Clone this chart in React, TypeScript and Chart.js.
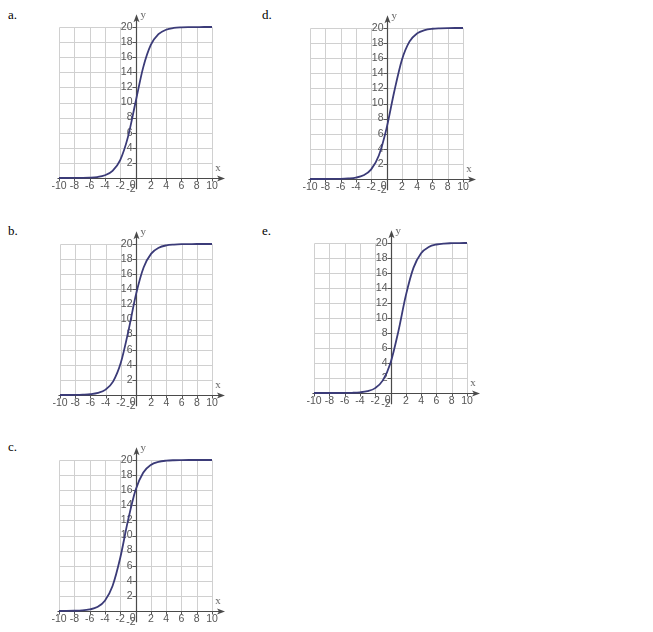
import React, { useEffect, useRef } from "react";
import { Chart, registerables } from "chart.js";

Chart.register(...registerables);

const X_VALUES = [-10, -9, -8, -7, -6, -5, -4, -3, -2, -1, 0, 1, 2, 3, 4, 5, 6, 7, 8, 9, 10];
const SERIES_A = [0, 0, 0.01, 0.02, 0.05, 0.13, 0.36, 0.95, 2.38, 5.38, 10, 14.62, 17.62, 19.05, 19.64, 19.87, 19.95, 19.98, 19.99, 20, 20];
const SERIES_B = [0, 0, 0.01, 0.04, 0.1, 0.27, 0.71, 1.81, 4.26, 8.48, 13.33, 16.89, 18.73, 19.51, 19.82, 19.93, 19.98, 19.99, 20, 20, 20];
const SERIES_C = [0, 0.01, 0.03, 0.07, 0.2, 0.52, 1.37, 3.32, 7.02, 11.91, 16, 18.32, 19.35, 19.75, 19.91, 19.97, 19.99, 20, 20, 20, 20];
const SERIES_D = [0, 0, 0, 0.01, 0.02, 0.07, 0.18, 0.49, 1.27, 3.11, 6.67, 11.52, 15.74, 18.19, 19.29, 19.73, 19.9, 19.96, 19.99, 20, 20];
const SERIES_E = [0, 0, 0, 0, 0.01, 0.03, 0.09, 0.25, 0.65, 1.68, 4, 8.09, 12.98, 16.68, 18.63, 19.47, 19.8, 19.93, 19.97, 19.99, 20];

const GRID_X = [-10, -8, -6, -4, -2, 0, 2, 4, 6, 8, 10];
const GRID_Y = [0, 2, 4, 6, 8, 10, 12, 14, 16, 18, 20];
const X_TICKS = [-10, -8, -6, -4, -2, 2, 4, 6, 8, 10];
const X_TICK_LABELS = ["-10", "-8", "-6", "-4", "-2", "2", "4", "6", "8", "10"];
const Y_TICKS = [2, 4, 6, 8, 10, 12, 14, 16, 18, 20];
const Y_TICK_LABELS = ["2", "4", "6", "8", "10", "12", "14", "16", "18", "20"];
const PANEL_LABELS = ["a.", "b.", "c.", "d.", "e."];

const PAD_L = 22;
const PAD_R = 24;
const PAD_T = 20;
const PAD_B = 20;

const TICK_FONT = '10.5px "Liberation Sans", Arial, sans-serif';
const LETTER_FONT = '11px "Liberation Serif", "Times New Roman", serif';

const axesPlugin = {
  id: "mathAxes",
  beforeDatasetsDraw(chart: any) {
    const { ctx } = chart;
    const xs = chart.scales.x;
    const ys = chart.scales.y;
    const px = (v: number) => xs.getPixelForValue(v);
    const py = (v: number) => ys.getPixelForValue(v);
    const x0 = Math.round(px(0)) + 0.5;
    const y0 = Math.round(py(0)) + 0.5;
    ctx.save();
    // grid
    ctx.strokeStyle = "#d0d0d0";
    ctx.lineWidth = 1;
    ctx.beginPath();
    for (const g of GRID_X) {
      const gx = Math.round(px(g)) + 0.5;
      ctx.moveTo(gx, py(0));
      ctx.lineTo(gx, Math.round(py(20)) + 0.5);
    }
    for (const g of GRID_Y) {
      const gy = Math.round(py(g)) + 0.5;
      ctx.moveTo(Math.round(px(-10)) + 0.5, gy);
      ctx.lineTo(Math.round(px(10)) + 0.5, gy);
    }
    ctx.stroke();

    // axes
    ctx.strokeStyle = "#4a4a4a";
    ctx.fillStyle = "#4a4a4a";
    ctx.lineWidth = 1.2;
    ctx.beginPath();
    ctx.moveTo(px(-10.2), y0);
    ctx.lineTo(px(11.2), y0);
    ctx.moveTo(x0, py(-1.5));
    ctx.lineTo(x0, py(21.2));
    ctx.stroke();
    const xt = px(11.7);
    ctx.beginPath();
    ctx.moveTo(xt, y0);
    ctx.lineTo(xt - 8, y0 - 3);
    ctx.lineTo(xt - 6, y0);
    ctx.lineTo(xt - 8, y0 + 3);
    ctx.closePath();
    ctx.fill();
    const yt = py(21.7);
    ctx.beginPath();
    ctx.moveTo(x0, yt);
    ctx.lineTo(x0 - 3, yt + 8);
    ctx.lineTo(x0, yt + 6);
    ctx.lineTo(x0 + 3, yt + 8);
    ctx.closePath();
    ctx.fill();

    ctx.lineWidth = 1;
    ctx.strokeStyle = "#555";
    ctx.beginPath();
    for (const t of X_TICKS) {
      const tx = Math.round(px(t)) + 0.5;
      ctx.moveTo(tx, y0);
      ctx.lineTo(tx, y0 + 3);
    }
    for (const t of Y_TICKS) {
      const ty = Math.round(py(t)) + 0.5;
      ctx.moveTo(x0 - 4, ty);
      ctx.lineTo(x0, ty);
    }
    ctx.stroke();

    ctx.fillStyle = "#555";
    ctx.font = TICK_FONT;
    ctx.textAlign = "center";
    ctx.textBaseline = "middle";
    X_TICKS.forEach((t, i) => {
      ctx.fillText(X_TICK_LABELS[i], px(t), y0 + 8);
    });
    ctx.textAlign = "right";
    Y_TICKS.forEach((t, i) => {
      ctx.fillText(Y_TICK_LABELS[i], x0 - 4, py(t));
    });
    ctx.fillText("0", x0 - 1, y0 + 7);
    ctx.fillText("-2", x0 - 1, y0 + 11);

    ctx.fillStyle = "#666";
    ctx.font = LETTER_FONT;
    ctx.textAlign = "center";
    ctx.fillText("x", px(10.8), py(1.3));
    ctx.textAlign = "left";
    ctx.fillText("y", x0 + 4, py(21.6));
    ctx.restore();
  },
};

type PanelProps = {
  label: string;
  values: number[];
  gridLeft: number;
  gridTop: number;
  gridRight: number;
  gridBottom: number;
  labelLeft: number;
  labelTop: number;
};

function Panel(props: PanelProps) {
  const ref = useRef<HTMLCanvasElement | null>(null);
  const w = props.gridRight - props.gridLeft + PAD_L + PAD_R;
  const h = props.gridBottom - props.gridTop + PAD_T + PAD_B;
  useEffect(() => {
    if (!ref.current) return;
    const chart = new Chart(ref.current, {
      type: "line",
      data: {
        datasets: [
          {
            data: X_VALUES.map((x, i) => ({ x, y: props.values[i] })),
            borderColor: "#3b3b78",
            borderWidth: 1.8,
            pointRadius: 0,
            cubicInterpolationMode: "monotone",
            fill: false,
            clip: false as any,
          },
        ],
      },
      options: {
        responsive: false,
        animation: false,
        devicePixelRatio: 1,
        layout: { padding: { left: PAD_L, right: PAD_R, top: PAD_T, bottom: PAD_B } },
        plugins: { legend: { display: false }, tooltip: { enabled: false } },
        events: [],
        scales: {
          x: { type: "linear", min: -10, max: 10, display: false },
          y: { type: "linear", min: 0, max: 20, display: false },
        },
      },
      plugins: [axesPlugin],
    } as any);
    return () => chart.destroy();
  }, []);
  return (
    <>
      <div
        style={{
          position: "absolute",
          left: props.labelLeft,
          top: props.labelTop,
          font: '13px "Liberation Serif", "Times New Roman", serif',
          lineHeight: "15px",
          color: "#000",
        }}
      >
        {props.label}
      </div>
      <canvas
        ref={ref}
        width={w}
        height={h}
        style={{
          position: "absolute",
          left: props.gridLeft - PAD_L,
          top: props.gridTop - PAD_T,
          width: w,
          height: h,
        }}
      />
    </>
  );
}

export default function App() {
  return (
    <div
      style={{
        position: "absolute",
        left: 0,
        top: 0,
        width: 653,
        height: 632,
        background: "#fff",
        overflow: "hidden",
      }}
    >
      <Panel label={PANEL_LABELS[0]} values={SERIES_A} gridLeft={59} gridTop={27} gridRight={212} gridBottom={178} labelLeft={8} labelTop={7} />
      <Panel label={PANEL_LABELS[1]} values={SERIES_B} gridLeft={60} gridTop={244} gridRight={212} gridBottom={395} labelLeft={8} labelTop={223} />
      <Panel label={PANEL_LABELS[2]} values={SERIES_C} gridLeft={59} gridTop={460} gridRight={212} gridBottom={611} labelLeft={8} labelTop={439} />
      <Panel label={PANEL_LABELS[3]} values={SERIES_D} gridLeft={310} gridTop={28} gridRight={463} gridBottom={179} labelLeft={262} labelTop={7} />
      <Panel label={PANEL_LABELS[4]} values={SERIES_E} gridLeft={314} gridTop={243} gridRight={467} gridBottom={393} labelLeft={262} labelTop={223} />
    </div>
  );
}
